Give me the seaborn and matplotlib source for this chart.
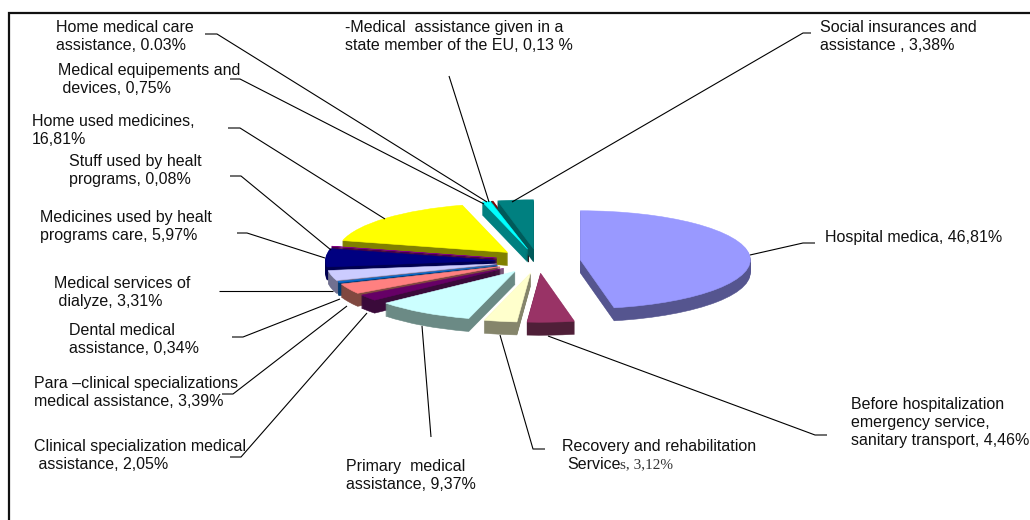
import numpy as np
import seaborn as sns
from matplotlib import pyplot as plt

# shares of the health budget, clockwise from 12 o'clock
categories = ["Hospital medica", "Before hospitalization", "Recovery", "Primary",
              "Clinical", "Para-clinical", "Dental", "Dialyze", "Medicines programs",
              "Stuff programs", "Home used medicines", "Equipements", "Home care",
              "EU assistance", "Social insurances"]
shares = [46.81, 4.46, 3.12, 9.37, 2.05, 3.39, 0.34, 3.31, 5.97, 0.08, 16.81, 0.75, 0.03, 0.13, 3.38]

top_colors = ["#9999FF", "#993366", "#FFFFCC", "#CCFFFF", "#660066", "#FF8080", "#0066CC", "#CCCCFF",
              "#000080", "#800080", "#FFFF00", "#00FFFF", "#008080", "#800000", "#008080"]
side_colors = ["#55558F", "#4F1F38", "#85856B", "#6B8A85", "#3A0A3A", "#804840", "#003A70", "#707090",
               "#000050", "#480048", "#808000", "#008080", "#004848", "#480000", "#005A5A"]

# back to front
draw_rank = [10, 13, 13, 12, 11, 9, 8, 7, 6, 5, 4, 3, 2, 2, 3]

label_texts = ["Home medical care\nassistance, 0.03%",
               "Medical equipements and\n devices, 0,75%",
               "Home used medicines,\n16,81%",
               "Stuff used by healt\nprograms, 0,08%",
               "Medicines used by healt\nprograms care, 5,97%",
               "Medical services of\n dialyze, 3,31%",
               "Dental medical\nassistance, 0,34%",
               "Para \u2013clinical specializations\nmedical assistance, 3,39%",
               "Clinical specialization medical\n assistance, 2,05%",
               "Primary  medical\nassistance, 9,37%",
               "-Medical  assistance given in a\nstate member of the EU, 0,13 %",
               "Social insurances and\nassistance , 3,38%",
               "Hospital medica, 46,81%",
               "Before hospitalization\nemergency service,\nsanitary transport, 4,46%"]

label_xy = [(56, 20), (58, 63), (32, 114), (69, 154), (40, 210), (54, 276), (69, 323),
            (34, 376), (34, 439), (346, 459), (345, 20), (820, 20), (825, 230), (851, 397)]

leaders = [[(205, 34), (217, 34), (487, 202)],
           [(230, 79), (240, 79), (484, 204)],
           [(228, 128), (240, 128), (385, 219)],
           [(230, 176), (241, 176), (331, 250)],
           [(237, 233), (247, 233), (325, 258)],
           [(219, 291), (333, 291)],
           [(232, 337), (243, 337), (340, 299)],
           [(222, 394), (233, 394), (347, 306)],
           [(230, 457), (241, 457), (367, 313)],
           [(422, 326), (431, 437)],
           [(500, 335), (533, 449), (545, 449)],
           [(548, 336), (815, 435), (827, 435)],
           [(750, 255), (803, 243), (815, 243)],
           [(512, 202), (803, 33), (811, 33)],
           [(449, 76), (489, 202)]]

sns.set_theme(style="white")
plt.rcParams['font.family'] = ['Liberation Sans', 'DejaVu Sans']

fig = plt.figure(figsize=(10.3, 5.2), dpi=100)

# pie axes: y squashed so the circle turns into the flat ellipse
rx, ry = 170.0, 49.0
squash = ry / rx
ax_pie = fig.add_axes([0, 0, 1, 1])
center_x, center_y = 538.0, 261.0
depth = 13
for d in range(depth, -1, -1):
    colors = top_colors if d == 0 else side_colors
    # explode is in data units here, not a fraction of the radius
    wedges, _ = ax_pie.pie(shares, explode=[0.25 * rx] * len(shares), radius=rx,
                           center=(center_x, -(center_y + d) / squash), startangle=90,
                           counterclock=False, colors=colors, frame=True,
                           wedgeprops={'linewidth': 0.4})
    for w, c, r in zip(wedges, colors, draw_rank):
        w.set_edgecolor(c)
        w.set_zorder(r + (depth - d) / 100)
ax_pie.set_aspect('auto')
ax_pie.set_xlim(0, 1030)
ax_pie.set_ylim(-520 / squash, 0)
ax_pie.axis('off')

# annotation axes in picture pixels
ax = fig.add_axes([0, 0, 1, 1], facecolor='none')
ax.set_xlim(0, 1030)
ax.set_ylim(520, 0)
ax.axis('off')

for pts in leaders:
    xs, ys = zip(*pts)
    ax.plot(xs, ys, color='black', lw=0.8, solid_capstyle='butt')

for txt, (x, y) in zip(label_texts, label_xy):
    ax.text(x, y, txt, fontsize=11.5, color='#111111', va='top', ha='left', linespacing=1.23)

ax.text(562, 439, "Recovery and rehabilitation", fontsize=11.5, color='#111111', va='top')
ax.text(567, 457, "Service", fontsize=11.5, color='#111111', va='top')
ax.text(620, 458, "s, 3,12%", fontsize=11, color='#333333', va='top', family='Liberation Serif')

# frame
ax.plot([9, 9, 1030], [520, 13, 13], color='#111111', lw=1.6, solid_joinstyle='miter')

fig.savefig('out.png', dpi=100)
